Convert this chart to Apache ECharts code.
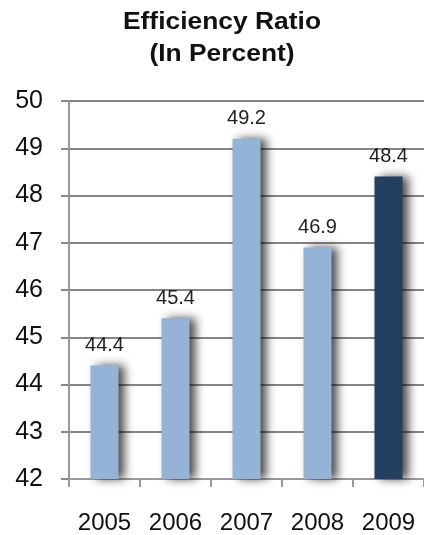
<!DOCTYPE html>
<html>
<head>
<meta charset="utf-8">
<script src="https://cdn.jsdelivr.net/npm/echarts@6/dist/echarts.min.js"></script>
<style>
  html, body { margin: 0; padding: 0; background: #fff; }
  #chart { width: 424px; height: 535px; }
</style>
</head>
<body>
<div id="chart"></div>
<script>
// Efficiency ratio by year, in percent
const years = ['2005', '2006', '2007', '2008', '2009'];
const ratios = [44.4, 45.4, 49.2, 46.9, 48.4];
const titleLines = ['Efficiency Ratio', '(In Percent)'];

const lightBlue = '#95b3d7';
const darkBlue = '#243f60';
const font = '"Liberation Sans", Arial, Helvetica, sans-serif';

const chart = echarts.init(document.getElementById('chart'), null, { renderer: 'canvas' });

chart.setOption({
  animation: false,
  backgroundColor: '#ffffff',
  graphic: titleLines.map((line, i) => ({
    type: 'text',
    x: 222,
    y: 22 + i * 32,
    scaleX: 1.1,
    style: {
      text: line,
      font: 'bold 24px ' + font,
      fill: '#111',
      align: 'center',
      verticalAlign: 'middle'
    }
  })),
  grid: { left: 69, right: -8, top: 101, bottom: 56, containLabel: false },
  xAxis: {
    type: 'category',
    data: years,
    boundaryGap: true,
    axisLine: { show: true, lineStyle: { color: '#999', width: 2 } },
    axisTick: { show: true, length: 8, lineStyle: { color: '#999', width: 2 } },
    axisLabel: { margin: 32, fontSize: 24, color: '#111', fontFamily: font },
    splitLine: { show: false }
  },
  yAxis: {
    type: 'value',
    min: 42,
    max: 50,
    interval: 1,
    axisLine: { show: true, lineStyle: { color: '#999', width: 2 } },
    axisTick: { show: true, length: 8, lineStyle: { color: '#888', width: 2 } },
    axisLabel: { margin: 26, fontSize: 25, color: '#111', fontFamily: font },
    splitLine: { show: true, lineStyle: { color: '#858585', width: 2 } }
  },
  series: [{
    type: 'bar',
    barWidth: 28,
    data: ratios.map((v, i) => ({
      value: v,
      itemStyle: { color: i === ratios.length - 1 ? darkBlue : lightBlue }
    })),
    itemStyle: {
      shadowColor: 'rgba(0,0,0,0.7)',
      shadowBlur: 10,
      shadowOffsetX: 6,
      shadowOffsetY: 0
    },
    label: {
      show: true,
      position: 'top',
      distance: 10,
      fontSize: 20,
      color: '#222',
      fontFamily: font,
      formatter: p => p.value.toFixed(1)
    }
  }]
});
</script>
</body>
</html>
